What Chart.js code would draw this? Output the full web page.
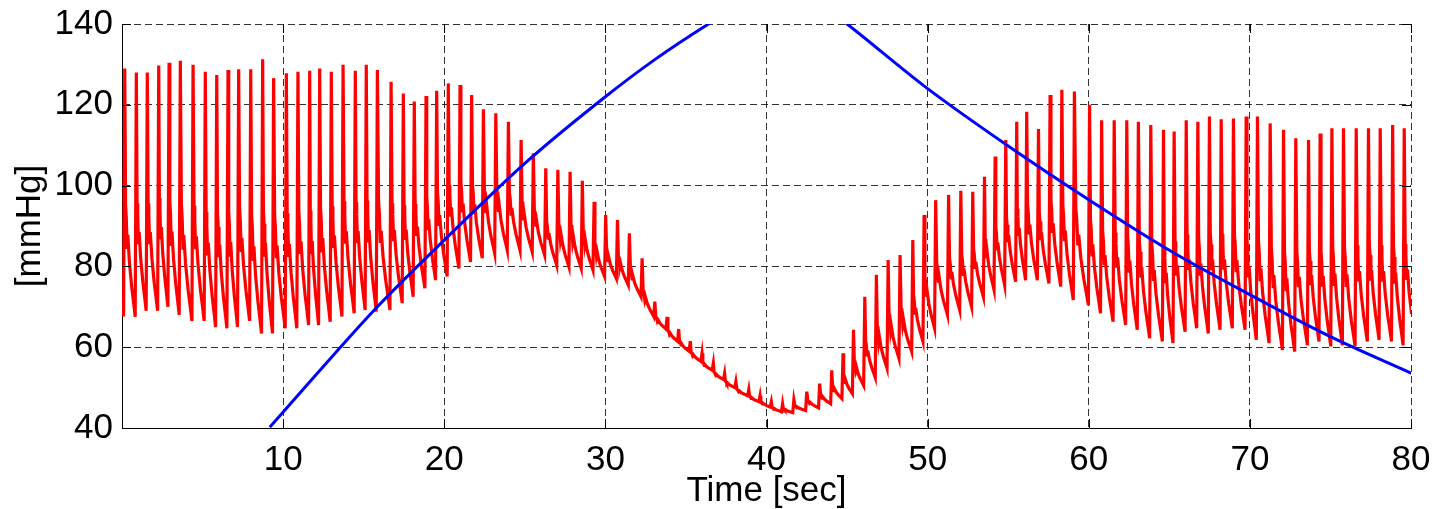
<!DOCTYPE html>
<html>
<head>
<meta charset="utf-8">
<script src="https://cdn.jsdelivr.net/npm/chart.js@4.4.1/dist/chart.umd.min.js"></script>
<style>
  html, body { margin: 0; padding: 0; background: #fff; }
  #wrap { width: 1435px; height: 509px; }
</style>
</head>
<body>
<div id="wrap"><canvas id="chart" width="1435" height="509"></canvas></div>
<script>
/* Finger pressure (red) against cuff pressure (blue). */

// red trace: one entry per heartbeat
var beatPeakT = [
  0.17, 0.89, 1.57, 2.28, 2.92, 3.62, 4.41, 5.17, 5.88, 6.58, 7.24, 7.99, 8.73, 9.41, 10.2, 10.92,
  11.65, 12.27, 12.99, 13.72, 14.48, 15.16, 15.85, 16.7, 17.46, 18.14, 18.87, 19.53, 20.25, 20.98,
  21.7, 22.43, 23.2, 23.98, 24.77, 25.53, 26.3, 27.05, 27.81, 28.57, 29.3, 30.02, 30.75, 31.49,
  32.28, 33.07, 33.83, 34.55, 35.27, 36.0, 36.7, 37.4, 38.1, 38.9, 39.6, 40.3, 41.0, 41.7, 42.5,
  43.3, 44.05, 44.75, 45.4, 46.1, 46.82, 47.55, 48.29, 49.08, 49.78, 50.5, 51.3, 52.06, 52.8,
  53.53, 54.19, 54.85, 55.53, 56.15, 56.88, 57.6, 58.33, 59.11, 60.05, 60.8, 61.58, 62.36, 63.08,
  63.85, 64.64, 65.3, 66.05, 66.77, 67.49, 68.22, 68.98, 69.77, 70.47, 71.26, 72.09, 72.85, 73.64,
  74.36, 75.09, 75.81, 76.6, 77.36, 78.09, 78.86, 79.58
];
var beatSys = [
  129, 128, 128, 129.7, 130.4, 130.9, 129.9, 128.2, 127.4, 128.6, 128.8, 128.8, 131.3, 126.6, 127.8, 128.2,
  128.4, 129, 128.2, 129.9, 128.4, 129.9, 128.6, 125.7, 122.8, 120.8, 122.2, 123.5, 125.3, 124.9,
  122.4, 118.9, 117.9, 115.8, 111.3, 108, 104.3, 103.9, 103.4, 101.2, 96, 92.7, 91.5, 88.2,
  82, 71.3, 67.5, 64.5, 61.5, 58.5, 56, 53.5, 51.5, 49.5, 48, 46.5, 46, 47, 49,
  51, 54.3, 58.5, 64.3, 72.5, 77.9, 81.6, 82.8, 86.5, 92.7, 96.4, 97.7, 98.7, 98.5,
  102.2, 107.2, 111.3, 115.8, 118.3, 114, 122.4, 123.7, 123.3, 120, 116.2, 116.2, 116.2, 115.8,
  115, 113.8, 113.4, 116.2, 115.8, 117.1, 116.4, 116.6, 117.1, 117.1, 115.4, 113.8, 111.7, 111.3,
  112.9, 114.2, 114.2, 114.2, 114.2, 114.2, 115, 114.2
];
// trough before each upstroke; the last entry is the trough after the final beat
var beatDia = [
  68, 67.5, 69, 69, 70, 68, 66.5, 66.5, 65, 64.7, 65, 66.5, 63.4, 63.4, 64.7, 64.7,
  65.5, 65.5, 66.3, 67.6, 68.4, 69.2, 68.8, 69.2, 70.9, 72.5, 74.6, 76.6, 77.5, 79.5,
  81.1, 82, 83.2, 84, 84, 83.6, 82.8, 80.3, 79.9, 79.5, 79.1, 77.5, 77, 75.4,
  72.5, 67.6, 64.5, 61.5, 59, 56.5, 54.3, 52, 50, 48, 46.5, 45.2, 44, 43.8, 44.3,
  45, 46, 47.3, 48.5, 50.5, 52.5, 54.8, 57.2, 58.9, 61.4, 64.7, 68, 69.2, 70,
  72.5, 74.2, 75.4, 76.2, 76.6, 76.6, 75.8, 75, 71.7, 70.4, 68.4, 66.3, 65.5, 64.3,
  62.2, 61.4, 61, 63.8, 64.7, 63.4, 64.3, 64.7, 64.3, 61.8, 61, 59.3, 58.9, 60.5,
  61.4, 60.2, 60.5, 60.2, 61.4, 61.8, 61.4, 60.5, 62
];

// blue trace: cuff pressure (goes off the top between ~36 s and ~45 s)
var cuffT = [9.17, 12.0, 15.85, 20.0, 25.0, 30.0, 33.0, 36.4, 38.5, 41.0, 43.0,
  45.0, 50.0, 55.0, 60.0, 65.0, 70.0, 75.0, 80.05];
var cuffP = [40.2, 53.0, 70.0, 86.5, 105.5, 122.0, 131.0, 140.0, 145.0, 149.5, 146.0,
  140.0, 124.0, 109.8, 96.5, 84.0, 73.0, 62.6, 53.5];

var xTicks = [10, 20, 30, 40, 50, 60, 70, 80];
var yTicks = [40, 60, 80, 100, 120, 140];

var FONT = { family: '"Liberation Sans", Arial, Helvetica, sans-serif', size: 35 };
var RISE = 0.07; // upstroke time, trough -> peak
// [fraction of beat period, fraction of pulse height] after the peak
var SHAPE = [[0.17, 0.45], [0.23, 0.40], [0.30, 0.28], [0.36, 0.33], [0.50, 0.22], [0.70, 0.12], [0.88, 0.05]];

function pressurePoints() {
  var pts = [{ x: 0, y: beatDia[0] }];
  var n = beatPeakT.length;
  for (var i = 0; i < n; i++) {
    var on = beatPeakT[i] - RISE;
    var next = i + 1 < n ? beatPeakT[i + 1] - RISE : beatPeakT[i] + 0.68;
    var d = next - on;
    var base = beatDia[i + 1];
    pts.push({ x: Math.max(on, 0), y: beatDia[i] });
    pts.push({ x: beatPeakT[i], y: beatSys[i] });
    SHAPE.forEach(function (s) {
      pts.push({ x: on + s[0] * d, y: base + s[1] * (beatSys[i] - base) });
    });
    if (i === n - 1) pts.push({ x: next, y: base });
  }
  return pts;
}

function cuffPoints() {
  return cuffT.map(function (t, i) { return { x: t, y: cuffP[i] }; });
}

// keep the plot box exactly where the reference has it (no label overhang padding)
function noOverhang(s) {
  s.paddingTop = 0; s.paddingBottom = 0; s.paddingLeft = 0; s.paddingRight = 0;
}

// MATLAB-style inward tick marks on all four sides
var inwardTicks = {
  id: "inwardTicks",
  afterDatasetsDraw: function (chart) {
    var a = chart.chartArea, ctx = chart.ctx, L = 9;
    var xs = chart.scales.x, ys = chart.scales.y;
    ctx.save();
    ctx.strokeStyle = "#000";
    ctx.lineWidth = 1;
    ctx.beginPath();
    xTicks.forEach(function (v) {
      var p = Math.round(xs.getPixelForValue(v)) + 0.5;
      ctx.moveTo(p, a.bottom); ctx.lineTo(p, a.bottom - L);
      ctx.moveTo(p, a.top); ctx.lineTo(p, a.top + L);
    });
    yTicks.forEach(function (v) {
      var p = Math.round(ys.getPixelForValue(v)) + 0.5;
      ctx.moveTo(a.left, p); ctx.lineTo(a.left + L, p);
      ctx.moveTo(a.right, p); ctx.lineTo(a.right - L, p);
    });
    ctx.stroke();
    ctx.restore();
  }
};

new Chart(document.getElementById("chart"), {
  type: "scatter",
  data: {
    datasets: [
      {
        label: "cuff",
        data: cuffPoints(),
        showLine: true,
        borderColor: "#0000ff",
        borderWidth: 3,
        pointRadius: 0,
        cubicInterpolationMode: "monotone"
      },
      {
        label: "finger",
        data: pressurePoints(),
        showLine: true,
        borderColor: "#ff0000",
        borderWidth: 3.2,
        pointRadius: 0,
        tension: 0
      }
    ]
  },
  options: {
    responsive: false,
    devicePixelRatio: 1,
    animation: false,
    layout: { padding: { top: 24, right: 24, left: 0, bottom: 0 } },
    plugins: { legend: { display: false }, tooltip: { enabled: false } },
    scales: {
      x: {
        type: "linear",
        min: 0,
        max: 80,
        afterBuildTicks: function (s) { s.ticks = xTicks.map(function (v) { return { value: v }; }); },
        afterFit: function (s) { s.height = 81; noOverhang(s); },
        grid: { color: "rgba(0,0,0,0.8)", lineWidth: 1, drawTicks: false },
        border: { display: true, color: "#000", width: 1, dash: [7, 4] },
        ticks: { color: "#000", font: FONT, padding: 11, maxRotation: 0, autoSkip: false },
        title: { display: true, text: "Time [sec]", color: "#000", font: FONT, padding: { top: 0, bottom: -3 } }
      },
      y: {
        type: "linear",
        min: 40,
        max: 140,
        afterBuildTicks: function (s) { s.ticks = yTicks.map(function (v) { return { value: v }; }); },
        afterFit: function (s) { s.width = 122; noOverhang(s); },
        grid: { color: "rgba(0,0,0,0.8)", lineWidth: 1, drawTicks: false },
        border: { display: true, color: "#000", width: 1, dash: [7, 4] },
        ticks: { color: "#000", font: FONT, padding: 9, autoSkip: false },
        title: { display: true, text: "[mmHg]", color: "#000", font: FONT, padding: { top: 9, bottom: 0 } }
      }
    }
  },
  plugins: [inwardTicks]
});
</script>
</body>
</html>
